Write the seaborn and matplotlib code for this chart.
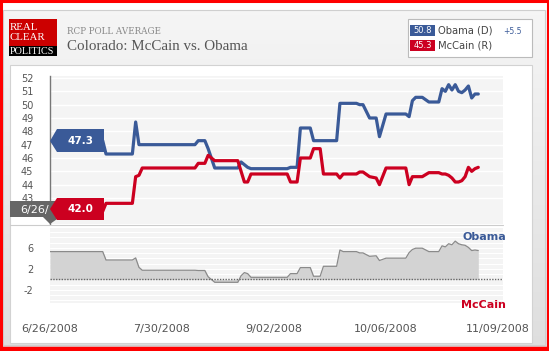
import numpy as np
import pandas as pd
import matplotlib
matplotlib.use("Agg")
import matplotlib.pyplot as plt
import matplotlib.dates as mdates
from matplotlib.colors import LinearSegmentedColormap
from matplotlib.patches import Rectangle, Polygon
import seaborn as sns

# RCP poll average, Colorado, days counted from 6/26/2008
start = pd.Timestamp("2008-06-26")
days = [0, 16, 17, 25, 26, 27, 28, 44, 45, 47, 48, 50, 57, 58, 59, 60, 61,
        72, 73, 75, 76, 79, 80, 82, 83, 87, 88, 89, 93, 94, 95, 97, 99, 100,
        102, 108, 109, 110, 111, 113, 115, 118, 119, 120, 121, 122, 123, 124,
        125, 126, 127, 128, 129, 130]
obama = [47.3, 47.3, 46.3, 46.3, 48.7, 47.0, 47.0, 47.0, 47.3, 47.3, 46.7,
         45.25, 45.25, 45.7, 45.5, 45.3, 45.2, 45.2, 45.3, 45.3, 48.25, 48.25,
         47.3, 47.3, 47.3, 47.3, 50.1, 50.1, 50.1, 50.0, 50.0, 49.0, 49.0,
         47.6, 49.3, 49.3, 49.1, 50.3, 50.55, 50.55, 50.2, 50.2, 51.2, 51.0,
         51.5, 51.1, 51.5, 51.0, 50.9, 51.1, 51.4, 50.5, 50.8, 50.8]
mccain = [42.0, 42.0, 42.6, 42.6, 44.6, 44.7, 45.25, 45.25, 45.6, 45.6, 46.2,
          45.8, 45.8, 45.0, 44.2, 44.2, 44.8, 44.8, 44.2, 44.2, 46.0, 46.0,
          46.7, 46.7, 44.8, 44.8, 44.5, 44.8, 44.8, 44.95, 44.95, 44.6, 44.5,
          44.0, 45.25, 45.25, 44.0, 44.6, 44.6, 44.6, 44.9, 44.9, 44.8, 44.8,
          44.7, 44.5, 44.2, 44.2, 44.3, 44.6, 45.3, 45.0, 45.2, 45.3]

main_ticks = [43, 44, 45, 46, 47, 48, 49, 50, 51, 52]
spread_ticks = [-2, 2, 6]
date_ticks = ["2008-06-26", "2008-07-30", "2008-09-02", "2008-10-06", "2008-11-09"]

df = pd.DataFrame({"date": start + pd.to_timedelta(days, unit="D"),
                   "Obama": obama, "McCain": mccain})
df["spread"] = df["Obama"] - df["McCain"]
long = df.melt(id_vars="date", value_vars=["Obama", "McCain"],
               var_name="candidate", value_name="pct")

BLUE = "#3a5a98"
RED = "#cc0020"
GREY = "#555555"
palette = {"Obama": BLUE, "McCain": RED}

W, H = 549, 351
sns.set_style("white")
plt.rcParams["font.family"] = ["DejaVu Sans"]

fig = plt.figure(figsize=(W / 100, H / 100), dpi=100)


def rect(x0, y0, x1, y1):
    # pixel box (top-left origin) -> figure fraction
    return [x0 / W, 1 - y1 / H, (x1 - x0) / W, (y1 - y0) / H]


# background frame
bg = fig.add_axes([0, 0, 1, 1], zorder=0)
bg.set_xlim(0, W)
bg.set_ylim(H, 0)
bg.axis("off")
grad = np.linspace(0, 1, 256).reshape(-1, 1)
bg.imshow(grad, extent=[0, W, H, 0], aspect="auto",
          cmap=LinearSegmentedColormap.from_list("g", ["#f6f6f6", "#dedede"]))
bg.add_patch(Rectangle((0, 0), W, 10, fc="white", ec="none"))
bg.add_patch(Rectangle((3, 10), 542, 335, fc="none", ec="#cfcfcf", lw=0.8))
bg.add_patch(Rectangle((10, 65), 522, 278, fc="white", ec="#d2d2d2", lw=0.8))

# logo
bg.add_patch(Rectangle((9, 19), 48, 27, fc="#cc0000", ec="none"))
bg.add_patch(Rectangle((9, 46), 48, 10, fc="black", ec="none"))
for txt, yy, fs in [("REAL", 27.5, 7.8), ("CLEAR", 38, 7.8), ("POLITICS", 51.5, 7.3)]:
    bg.text(9.5, yy, txt, color="white", fontsize=fs, family="Liberation Serif",
            va="center", ha="left")

bg.text(67, 31, "RCP POLL AVERAGE", color="#888888", fontsize=6.3,
        family="DejaVu Serif", va="center", ha="left")
bg.text(67, 47, "Colorado: McCain vs. Obama", color=GREY, fontsize=10.8,
        family="Liberation Serif", va="center", ha="left")

# legend box
bg.add_patch(Rectangle((408, 19), 124, 38, fc="white", ec="#bbbbbb", lw=0.8))
bg.add_patch(Rectangle((410, 25), 25, 11, fc=BLUE, ec="none"))
bg.add_patch(Rectangle((410, 40), 25, 11, fc=RED, ec="none"))
bg.text(422.5, 30.5, f"{obama[-1]:.1f}", color="white", fontsize=6, ha="center", va="center")
bg.text(422.5, 45.5, f"{mccain[-1]:.1f}", color="white", fontsize=6, ha="center", va="center")
bg.text(438, 30.5, "Obama (D)", color="#444444", fontsize=7.2, ha="left", va="center")
bg.text(438, 45.5, "McCain (R)", color="#444444", fontsize=7.2, ha="left", va="center")
bg.text(503, 31, f"+{df['spread'].iloc[-1]:.1f}", color=BLUE, fontsize=5.5,
        ha="left", va="center")

# main chart
ax = fig.add_axes(rect(50, 76, 503, 224), zorder=2)
ax.set_facecolor("#f4f4f4")
sns.lineplot(data=long, x="date", y="pct", hue="candidate", palette=palette,
             linewidth=2.3, legend=False, ax=ax)
ax.set_ylim(41.05, 52.15)
ax.set_yticks(main_ticks)
ax.set_yticklabels([str(t) for t in main_ticks], color=GREY, fontsize=7)
ax.tick_params(axis="y", length=0, pad=12)
ax.grid(axis="y", color="white", lw=1)
ax.set_axisbelow(True)
x0 = start
x1 = start + pd.Timedelta(days=137.5)
ax.set_xlim(x0, x1)
ax.set_xticks([])
ax.set_xlabel("")
ax.set_ylabel("")
for s in ["top", "right", "bottom"]:
    ax.spines[s].set_visible(False)
ax.spines["left"].set_color("#777777")
ax.spines["left"].set_linewidth(1)

# spread chart
ax2 = fig.add_axes(rect(50, 228, 503, 303), zorder=2)
ax2.set_facecolor("#f4f4f4")
ax2.fill_between(df["date"], df["spread"], 0, color="#d3d3d3", lw=0)
sns.lineplot(data=df, x="date", y="spread", color="#8a8a8a", linewidth=0.9, ax=ax2)
ax2.axhline(0, color="#666666", lw=1, ls=(0, (1, 1)))
ax2.set_ylim(-4.5, 9.8)
ax2.set_yticks(spread_ticks)
ax2.set_yticklabels([str(t) for t in spread_ticks], color=GREY, fontsize=7)
ax2.set_yticks(np.arange(-4, 10, 1), minor=True)
ax2.grid(axis="y", which="both", color="white", lw=0.8)
ax2.set_axisbelow(True)
ax2.set_xlim(x0, x1)
ticks = pd.to_datetime(date_ticks)
ax2.set_xticks(ticks)
ax2.set_xticklabels([f"{t.month}/{t.day:02d}/{t.year}" for t in ticks],
                    color=GREY, fontsize=8)
ax2.tick_params(axis="both", which="both", length=0)
ax2.tick_params(axis="x", pad=15)
ax2.tick_params(axis="y", pad=12)
ax2.set_xlabel("")
ax2.set_ylabel("")
for s in ax2.spines.values():
    s.set_visible(False)

# overlay labels
ov = fig.add_axes([0, 0, 1, 1], zorder=5)
ov.set_xlim(0, W)
ov.set_ylim(H, 0)
ov.axis("off")
ov.plot([10, 503], [224.5, 224.5], color="#cccccc", lw=0.8)
ov.add_patch(Polygon([(10, 201), (60, 201), (60, 217), (50, 224), (43, 217), (10, 217)],
                     closed=True, fc="#666666", ec="none"))
ov.text(20, 209.5, "6/26/", color="white", fontsize=8, ha="left", va="center")
ov.add_patch(Polygon([(50, 141), (57, 129), (104, 129), (104, 152), (57, 152)],
                     closed=True, fc=BLUE, ec="none"))
ov.text(80, 141, f"{obama[0]:.1f}", color="white", fontsize=7.5, weight="bold",
        ha="center", va="center")
ov.add_patch(Polygon([(50, 209), (57, 198), (104, 198), (104, 220), (57, 220)],
                     closed=True, fc=RED, ec="none"))
ov.text(80, 209.5, f"{mccain[0]:.1f}", color="white", fontsize=7.5, weight="bold",
        ha="center", va="center")
ov.text(506, 237, "Obama", color=BLUE, fontsize=8, weight="bold", ha="right", va="center")
ov.text(506, 305, "McCain", color=RED, fontsize=8, weight="bold", ha="right", va="center")

# red outer border
ov.add_patch(Rectangle((1.2, 1.2), W - 2.4, H - 2.4, fc="none", ec="#ff0000", lw=2.2))
ov.plot([0, W], [347.5, 347.5], color="#ff0000", lw=2.5)

fig.savefig("out.png", dpi=100)
